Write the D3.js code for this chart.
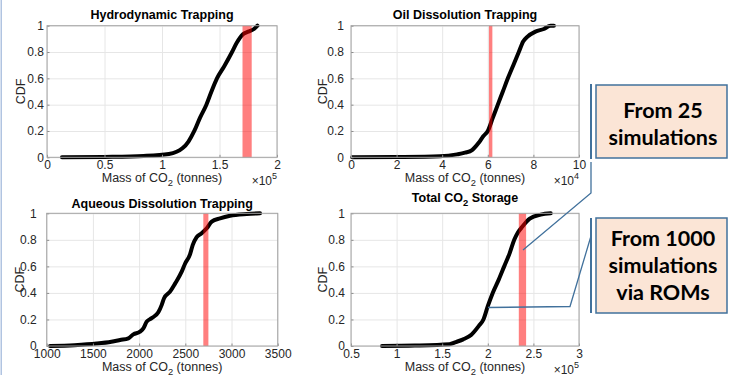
<!DOCTYPE html>
<html><head><meta charset="utf-8">
<script src="https://cdn.jsdelivr.net/npm/d3@7/dist/d3.min.js"></script>
<style>
html,body{margin:0;padding:0;background:#fff;}
svg{display:block;}
</style></head><body>
<svg id="c" width="730" height="375"></svg>
<script>
// ---------- data ----------
const titles = ["Hydrodynamic Trapping", "Oil Dissolution Trapping", "Aqueous Dissolution Trapping", "Total CO2 Storage"];
const xLabel = "Mass of CO2 (tonnes)";
const yLabel = "CDF";
const exponents = ["5", "4", null, "5"];

const hydroMass = [0.13, 0.5, 0.84, 1.06, 1.18, 1.23, 1.281, 1.33, 1.386, 1.43, 1.478, 1.54, 1.609, 1.65, 1.704, 1.75, 1.80, 1.83];
const hydroCDF  = [0, 0.003, 0.01, 0.025, 0.07, 0.12, 0.2, 0.3, 0.4, 0.5, 0.6, 0.69, 0.8, 0.87, 0.935, 0.955, 0.975, 1.0];
const oilMass = [0.05, 2, 3.9, 4.65, 5.0, 5.31, 5.6, 5.8, 6.0, 6.22, 6.44, 6.66, 6.88, 7.12, 7.36, 7.55, 7.73, 8.09, 8.46, 8.75, 8.9];
const oilCDF  = [0, 0.002, 0.008, 0.022, 0.035, 0.055, 0.11, 0.16, 0.2, 0.3, 0.4, 0.5, 0.6, 0.7, 0.8, 0.88, 0.915, 0.955, 0.975, 1.0, 1.0];
const aqMass = [1036, 1300, 1541, 1700, 1794, 1884, 1938, 2010, 2046, 2082, 2136, 2208, 2245, 2270, 2335, 2389, 2461, 2497, 2551, 2580, 2623, 2677, 2732, 2786, 2876, 2984, 3164, 3309];
const aqCDF  = [0, 0.006, 0.018, 0.032, 0.045, 0.058, 0.088, 0.108, 0.133, 0.183, 0.21, 0.254, 0.31, 0.36, 0.41, 0.47, 0.56, 0.62, 0.69, 0.76, 0.82, 0.85, 0.887, 0.937, 0.962, 0.982, 0.995, 1.0];
const totalMass = [0.84, 1.2, 1.58, 1.65, 1.73, 1.82, 1.9, 1.952, 2.0, 2.054, 2.12, 2.18, 2.24, 2.29, 2.33, 2.38, 2.46, 2.58, 2.69];
const totalCDF  = [0, 0.003, 0.013, 0.03, 0.05, 0.085, 0.15, 0.2, 0.3, 0.4, 0.5, 0.6, 0.7, 0.8, 0.855, 0.9, 0.96, 0.99, 1.0];

const hydroBand = [1.70, 1.78];
const oilBand = [6.05, 6.2];
const aqBand = [2695, 2750];
const totalBand = [2.34, 2.42];

const hydroTicks = [0, 0.5, 1, 1.5, 2];
const hydroTickLabels = ["0", "0.5", "1", "1.5", "2"];
const oilTicks = [0, 2, 4, 6, 8, 10];
const oilTickLabels = ["0", "2", "4", "6", "8", "10"];
const aqTicks = [1000, 1500, 2000, 2500, 3000, 3500];
const aqTickLabels = ["1000", "1500", "2000", "2500", "3000", "3500"];
const totalTicks = [0.5, 1, 1.5, 2, 2.5, 3];
const totalTickLabels = ["0.5", "1", "1.5", "2", "2.5", "3"];
const cdfTicks = [0, 0.2, 0.4, 0.6, 0.8, 1];
const cdfTickLabels = ["0", "0.2", "0.4", "0.6", "0.8", "1"];

const callout1 = ["From 25", "simulations"];
const callout2 = ["From 1000", "simulations", "via ROMs"];

// ---------- layout ----------
const panels = [
  {mass: hydroMass, cdf: hydroCDF, band: hydroBand, ticks: hydroTicks, labels: hydroTickLabels, domain: [0, 2],
   L: 47, R: 277, T: 25.7, B: 157.3, ypad: 3, ylabX: 20, titleY: 19},
  {mass: oilMass, cdf: oilCDF, band: oilBand, ticks: oilTicks, labels: oilTickLabels, domain: [0, 10],
   L: 351, R: 579, T: 25.7, B: 157.3, ypad: 7, ylabX: 322, titleY: 19},
  {mass: aqMass, cdf: aqCDF, band: aqBand, ticks: aqTicks, labels: aqTickLabels, domain: [1000, 3500],
   L: 46.7, R: 277.7, T: 213.3, B: 346, ypad: 10, ylabX: 19, titleY: 208},
  {mass: totalMass, cdf: totalCDF, band: totalBand, ticks: totalTicks, labels: totalTickLabels, domain: [0.5, 3],
   L: 351, R: 579, T: 213.3, B: 346, ypad: 6, ylabX: 322, titleY: 202}
];

const FONT = "'Liberation Sans', Arial, Helvetica, sans-serif";
const svg = d3.select("#c");

// left-edge slide border
svg.append("line").attr("x1", 1.2).attr("x2", 1.2).attr("y1", 0).attr("y2", 375)
  .attr("stroke", "#9db5da").attr("stroke-width", 1.2);

function writeSub(sel, str, size) {
  const parts = str.split("CO2");
  parts.forEach((p, i) => {
    if (i === 0) { sel.append("tspan").text(p + (parts.length > 1 ? "CO" : "")); }
    else {
      sel.append("tspan").attr("font-size", size * 0.75).attr("dy", size * 0.3).text("2");
      sel.append("tspan").attr("font-size", size).attr("dy", -size * 0.3).text(p);
    }
  });
}

panels.forEach((p, i) => {
  const x = d3.scaleLinear().domain(p.domain).range([p.L, p.R]);
  const y = d3.scaleLinear().domain([0, 1]).range([p.B, p.T]);
  const g = svg.append("g");

  // grid
  g.append("g").attr("transform", `translate(0,${p.B})`)
    .call(d3.axisBottom(x).tickValues(p.ticks).tickSize(-(p.B - p.T)).tickFormat(""))
    .call(a => { a.select(".domain").remove(); a.selectAll("line").attr("stroke", "#e6e6e6"); });
  g.append("g").attr("transform", `translate(${p.L},0)`)
    .call(d3.axisLeft(y).tickValues(cdfTicks).tickSize(-(p.R - p.L)).tickFormat(""))
    .call(a => { a.select(".domain").remove(); a.selectAll("line").attr("stroke", "#e6e6e6"); });

  // CDF curve
  const pts = p.mass.map((m, k) => [m, p.cdf[k]]);
  g.append("path").datum(pts)
    .attr("d", d3.line().x(d => x(d[0])).y(d => y(d[1])).curve(d3.curveMonotoneX))
    .attr("fill", "none").attr("stroke", "#000").attr("stroke-width", 4)
    .attr("stroke-linejoin", "round").attr("stroke-linecap", "round");

  // red band (semi-transparent, on top)
  g.append("rect")
    .attr("x", x(p.band[0])).attr("width", x(p.band[1]) - x(p.band[0]))
    .attr("y", p.T).attr("height", p.B - p.T)
    .attr("fill", "rgb(255,0,0)").attr("fill-opacity", 0.5);

  // axes with labels
  const ax = g.append("g").attr("transform", `translate(0,${p.B})`)
    .call(d3.axisBottom(x).tickValues(p.ticks).tickFormat((d, k) => p.labels[k])
      .tickSizeInner(-2.5).tickSizeOuter(0).tickPadding(3));
  ax.select(".domain").remove();
  ax.selectAll("line").attr("stroke", "#8c8c8c");
  ax.selectAll("text").attr("font-family", FONT).attr("font-size", 12).attr("fill", "#262626");

  const ay = g.append("g").attr("transform", `translate(${p.L},0)`)
    .call(d3.axisLeft(y).tickValues(cdfTicks).tickFormat((d, k) => cdfTickLabels[k])
      .tickSizeInner(-2.5).tickSizeOuter(0).tickPadding(p.ypad));
  ay.select(".domain").remove();
  ay.selectAll("line").attr("stroke", "#8c8c8c");
  ay.selectAll("text").attr("font-family", FONT).attr("font-size", 12).attr("fill", "#262626");

  // box
  g.append("rect").attr("x", p.L).attr("y", p.T).attr("width", p.R - p.L).attr("height", p.B - p.T)
    .attr("fill", "none").attr("stroke", "#a3a3a3").attr("stroke-width", 1);

  // title
  const t = g.append("text").attr("x", (p.L + p.R) / 2).attr("y", p.titleY)
    .attr("text-anchor", "middle").attr("font-family", FONT).attr("font-weight", "bold")
    .attr("font-size", 12.5).attr("fill", "#000");
  writeSub(t, titles[i], 12.5);

  // x label
  const xl = g.append("text").attr("x", (p.L + p.R) / 2).attr("y", p.B + 25)
    .attr("text-anchor", "middle").attr("font-family", FONT).attr("font-size", 12.5).attr("fill", "#262626");
  writeSub(xl, xLabel, 12.5);

  // y label
  g.append("text").attr("transform", `translate(${p.ylabX + 4.5},${(p.T + p.B) / 2}) rotate(-90)`)
    .attr("text-anchor", "middle").attr("font-family", FONT).attr("font-size", 12.5).attr("fill", "#262626")
    .text(yLabel);

  // exponent
  if (exponents[i]) {
    const e = g.append("text").attr("x", p.R).attr("y", p.B + 27.5)
      .attr("text-anchor", "end").attr("font-family", FONT).attr("font-size", 12).attr("fill", "#262626");
    e.append("tspan").text("\u00d710");
    e.append("tspan").attr("font-size", 9).attr("dy", -5.5).text(exponents[i]);
  }
});

// ---------- callouts ----------
const BLUE = "#41719c";
const CFONT = "Lato, 'Open Sans', sans-serif";
svg.append("rect").attr("x", 596).attr("y", 85).attr("width", 131).attr("height", 73)
  .attr("fill", "#fbe5d6").attr("stroke", BLUE).attr("stroke-width", 1.5);
svg.append("rect").attr("x", 596).attr("y", 218).attr("width", 131).attr("height", 95)
  .attr("fill", "#fbe5d6").attr("stroke", BLUE).attr("stroke-width", 1.5);

svg.append("line").attr("x1", 591).attr("x2", 591).attr("y1", 84).attr("y2", 159)
  .attr("stroke", BLUE).attr("stroke-width", 2);
svg.append("line").attr("x1", 591).attr("x2", 591).attr("y1", 218).attr("y2", 313)
  .attr("stroke", BLUE).attr("stroke-width", 2);
svg.append("polyline").attr("points", "591,162 591,193 523,250")
  .attr("fill", "none").attr("stroke", BLUE).attr("stroke-width", 1.3);
svg.append("polyline").attr("points", "591,236 570,306.5 488,307.5")
  .attr("fill", "none").attr("stroke", BLUE).attr("stroke-width", 1.3);

callout1.forEach((s, k) => {
  svg.append("text").attr("x", 663).attr("y", 118 + k * 27).attr("text-anchor", "middle")
    .attr("font-family", CFONT).attr("font-weight", "bold").attr("font-size", 21.5).attr("fill", "#000").text(s);
});
callout2.forEach((s, k) => {
  svg.append("text").attr("x", 663).attr("y", 246 + k * 27).attr("text-anchor", "middle")
    .attr("font-family", CFONT).attr("font-weight", "bold").attr("font-size", 21.5).attr("fill", "#000").text(s);
});
</script>
</body></html>
